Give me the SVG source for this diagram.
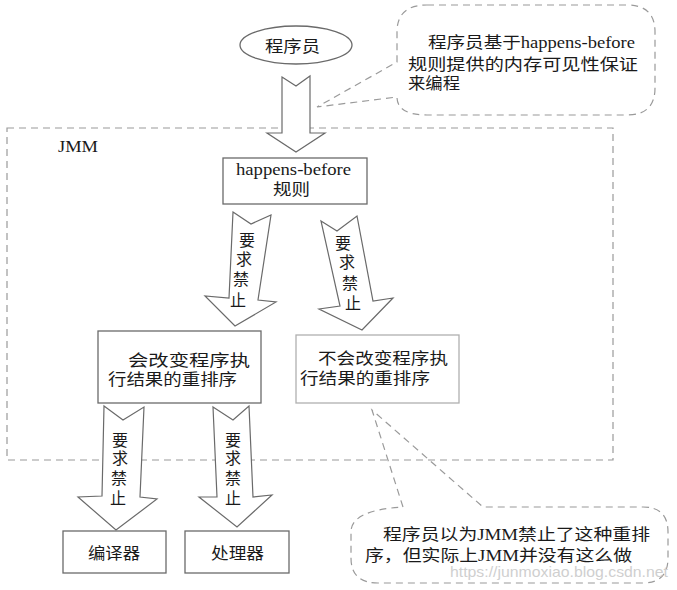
<svg xmlns="http://www.w3.org/2000/svg" width="677" height="590" viewBox="0 0 677 590">
<style>
.t{font-family:"Liberation Serif","Noto Sans CJK SC",serif;font-size:16px;fill:#1a1a1a}
.c{font-family:"Liberation Serif","Noto Sans CJK SC",serif;font-size:16px;fill:#1a1a1a;text-anchor:middle}
.box{fill:#fff;stroke:#6a6a6a;stroke-width:1.3}
.arrow{fill:#fff;stroke:#6a6a6a;stroke-width:1.2;stroke-linejoin:miter}
.dash{fill:none;stroke:#9a9a9a;stroke-width:1.2;stroke-dasharray:7 5}
</style>
<rect width="677" height="590" fill="#fff"/>
<g id="jmm">
<rect class="dash" x="7" y="128" width="606" height="332"/>
<text class="t" x="58" y="152" font-size="15" textLength="40" lengthAdjust="spacingAndGlyphs">JMM</text>
</g>
<g id="connectors">
<polygon class="arrow" points="282,77 296,86 310,76 310,133 325,133 296,152 267,133 282,133"/>
<polygon class="arrow" points="233,212 251,224 271,215 258,300 276,302 235,326 205,296 229,298"/>
<polygon class="arrow" points="321,221 337,231 357,216 373,301 393,298 362,330 319,309 340,306"/>
<polygon class="arrow" points="104,406 123,420 144,407 140,497 157,499 116,530 78,497 102,496"/>
<polygon class="arrow" points="213,407 233,420 249,406 253,497 272,495 237,527 199,497 217,497"/>
<g id="label-a1"><text class="c" x="247" y="246">要</text><text class="c" x="244" y="265">求</text><text class="c" x="241" y="285">禁</text><text class="c" x="238" y="306">止</text></g>
<g id="label-a2"><text class="c" x="343" y="249">要</text><text class="c" x="347" y="268">求</text><text class="c" x="350" y="289">禁</text><text class="c" x="353" y="309">止</text></g>
<g id="label-a3"><text class="c" x="120" y="446">要</text><text class="c" x="120" y="464">求</text><text class="c" x="119" y="484">禁</text><text class="c" x="118" y="504">止</text></g>
<g id="label-a4"><text class="c" x="233" y="446">要</text><text class="c" x="233" y="464">求</text><text class="c" x="233" y="484">禁</text><text class="c" x="233" y="504">止</text></g>
</g>
<g id="programmer">
<ellipse cx="296" cy="45" rx="56" ry="19" fill="#fff" stroke="#6a6a6a" stroke-width="1.3"/>
<text class="t" x="265" y="52" textLength="55" lengthAdjust="spacingAndGlyphs">程序员</text>
</g>
<g id="note-top">
<path class="dash" d="M427,5 H627 Q655,5 655,32 V88 Q655,115 627,115 H427 Q397,115 397,97 L317,107 L397,62 V32 Q397,5 427,5 Z"/>
<text class="t" x="428" y="48" textLength="207" lengthAdjust="spacingAndGlyphs">程序员基于happens-before</text>
<text class="t" x="408" y="70" textLength="230" lengthAdjust="spacingAndGlyphs">规则提供的内存可见性保证</text>
<text class="t" x="408" y="89" textLength="52" lengthAdjust="spacingAndGlyphs">来编程</text>
</g>
<g id="hb">
<rect class="box" x="223" y="158" width="144" height="46"/>
<text class="t" x="236" y="175" textLength="115" lengthAdjust="spacingAndGlyphs">happens-before</text>
<text class="t" x="273" y="195" textLength="37" lengthAdjust="spacingAndGlyphs">规则</text>
</g>
<g id="change">
<rect class="box" x="98" y="331" width="163" height="72"/>
<text class="t" x="128" y="366" textLength="122" lengthAdjust="spacingAndGlyphs">会改变程序执</text>
<text class="t" x="108" y="385" textLength="129" lengthAdjust="spacingAndGlyphs">行结果的重排序</text>
</g>
<g id="nochange">
<rect x="296" y="335" width="163" height="68" fill="#fff" stroke="#b0b0b0" stroke-width="1.3"/>
<text class="t" x="318" y="364" textLength="130" lengthAdjust="spacingAndGlyphs">不会改变程序执</text>
<text class="t" x="300" y="384" textLength="130" lengthAdjust="spacingAndGlyphs">行结果的重排序</text>
</g>
<g id="compiler">
<rect class="box" x="63" y="531" width="103" height="42"/>
<text class="t" x="88" y="559" textLength="52" lengthAdjust="spacingAndGlyphs">编译器</text>
</g>
<g id="processor">
<rect class="box" x="185" y="531" width="104" height="42"/>
<text class="t" x="211" y="559" textLength="53" lengthAdjust="spacingAndGlyphs">处理器</text>
</g>
<g id="note-bottom">
<path class="dash" d="M403,507 L372,410 L483,507 H643 Q668,507 668,532 V558 Q668,583 643,583 H378 Q351,583 351,558 V532 Q351,510 403,507 Z"/>
<text class="t" x="383" y="540" textLength="267" lengthAdjust="spacingAndGlyphs">程序员以为JMM禁止了这种重排</text>
<text class="t" x="365" y="561" textLength="267" lengthAdjust="spacingAndGlyphs">序，但实际上JMM并没有这么做</text>
<text x="450" y="577" font-family="Liberation Sans, sans-serif" font-size="15" fill="#cfcfcf" textLength="218" lengthAdjust="spacingAndGlyphs">https://junmoxiao.blog.csdn.net</text>
</g>
</svg>
